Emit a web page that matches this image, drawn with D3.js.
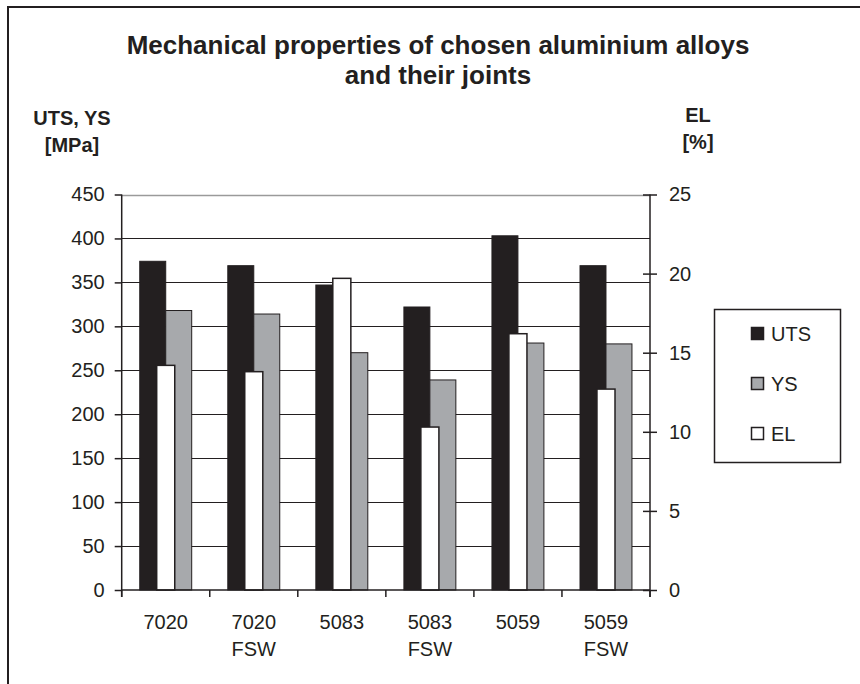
<!DOCTYPE html>
<html>
<head>
<meta charset="utf-8">
<script src="https://cdn.jsdelivr.net/npm/d3@7"></script>
<style>
  html, body { margin: 0; padding: 0; background: #fff; }
  svg { display: block; font-family: "Liberation Sans", Arial, sans-serif; }
</style>
</head>
<body>
<svg id="chart" width="860" height="684"></svg>
<script>
// ---- data ----
const categories = ["7020", "7020 FSW", "5083", "5083 FSW", "5059", "5059 FSW"];
const uts = [374, 369, 347, 322, 403, 369];
const ys  = [318, 314, 270, 239, 281, 280];
const el  = [14.2, 13.8, 19.7, 10.3, 16.2, 12.7];
const leftTicks = [0, 50, 100, 150, 200, 250, 300, 350, 400, 450];
const rightTicks = [0, 5, 10, 15, 20, 25];
const seriesNames = ["UTS", "YS", "EL"];
const titleLines = ["Mechanical properties of chosen aluminium alloys", "and their joints"];

// ---- layout ----
const ink = "#231f20";
const colors = { UTS: "#231f20", YS: "#a7a9ac", EL: "#ffffff" };
const plot = { left: 121.7, right: 650, top: 194.5, bottom: 590 };

const svg = d3.select("#chart");

// outer chart border (top and left visible)
svg.append("path")
  .attr("d", `M8,684 L8,7 L860,7`)
  .attr("fill", "none").attr("stroke", ink).attr("stroke-width", 2);

// scales
const yL = d3.scaleLinear().domain([0, 450]).range([plot.bottom, plot.top]);
const yR = d3.scaleLinear().domain([0, 25]).range([plot.bottom, plot.top]);
const x0 = d3.scaleBand().domain(categories).range([plot.left, plot.right])
  .paddingInner(0.41).paddingOuter(0.205);
const x1 = d3.scaleBand().domain(["UTS", "YS"]).range([0, x0.bandwidth()]);
const xEL = d3.scaleBand().domain(categories).range([plot.left, plot.right])
  .paddingInner(0.795).paddingOuter(0.3975);

// gridlines
svg.append("g").selectAll("line")
  .data(leftTicks.filter(d => d > 0))
  .join("line")
  .attr("x1", plot.left).attr("x2", plot.right)
  .attr("y1", d => Math.round(yL(d)) + 0.5).attr("y2", d => Math.round(yL(d)) + 0.5)
  .attr("stroke", d => d === 450 ? "#9a9a9a" : ink)
  .attr("stroke-width", d => d === 450 ? 1.5 : 1);

// primary bars
const groups = svg.append("g").selectAll("g")
  .data(categories.map((c, i) => ({ c, UTS: uts[i], YS: ys[i] })))
  .join("g")
  .attr("transform", d => `translate(${x0(d.c)},0)`);
groups.selectAll("rect")
  .data(d => ["UTS", "YS"].map(k => ({ k, v: d[k] })))
  .join("rect")
  .attr("x", d => x1(d.k))
  .attr("width", x1.bandwidth())
  .attr("y", d => yL(d.v))
  .attr("height", d => yL(0) - yL(d.v))
  .attr("fill", d => colors[d.k])
  .attr("stroke", ink).attr("stroke-width", 1);

// secondary bars (EL)
svg.append("g").selectAll("rect")
  .data(categories.map((c, i) => ({ c, v: el[i] })))
  .join("rect")
  .attr("x", d => xEL(d.c))
  .attr("width", xEL.bandwidth())
  .attr("y", d => yR(d.v))
  .attr("height", d => yR(0) - yR(d.v))
  .attr("fill", colors.EL)
  .attr("stroke", ink).attr("stroke-width", 1.5);

// left axis
const gL = svg.append("g").attr("transform", `translate(${plot.left},0)`)
  .call(d3.axisLeft(yL).tickValues(leftTicks).tickSize(7).tickPadding(10));
// right axis
const gR = svg.append("g").attr("transform", `translate(${plot.right},0)`)
  .call(d3.axisRight(yR).tickValues(rightTicks).tickSize(7).tickPadding(12));
gR.selectAll(".tick line").attr("x1", -7);

[gL, gR].forEach(g => {
  g.select(".domain").attr("stroke", ink).attr("stroke-width", 1.5)
    .attr("d", `M0,${plot.top}V${plot.bottom + 7}`);
  g.selectAll(".tick line").attr("stroke", ink).attr("stroke-width", 1.5);
  g.selectAll(".tick text").attr("fill", ink)
    .style("font-size", "20px").style("font-family", "Liberation Sans, Arial, sans-serif");
});

// bottom axis: line and boundary ticks
const step = x0.step();
const bounds = categories.map(c => x0(c) - (step - x0.bandwidth()) / 2).concat([plot.right]);
svg.append("line")
  .attr("x1", plot.left).attr("x2", plot.right)
  .attr("y1", plot.bottom).attr("y2", plot.bottom)
  .attr("stroke", ink).attr("stroke-width", 1.5);
svg.append("g").selectAll("line").data(bounds).join("line")
  .attr("x1", d => d).attr("x2", d => d)
  .attr("y1", plot.bottom).attr("y2", plot.bottom + 7)
  .attr("stroke", ink).attr("stroke-width", 1.5);

// category labels
const xl = svg.append("g").selectAll("text").data(categories).join("text")
  .attr("x", d => x0(d) + x0.bandwidth() / 2)
  .attr("y", 629)
  .attr("text-anchor", "middle")
  .attr("fill", ink)
  .style("font-size", "20px");
xl.selectAll("tspan").data(d => d.split(" ").map((t, i) => ({ t, i })))
  .join("tspan")
  .attr("x", function () { return d3.select(this.parentNode).attr("x"); })
  .attr("dy", d => d.i === 0 ? 0 : 27)
  .text(d => d.t);

// title
svg.append("g").selectAll("text").data(titleLines).join("text")
  .attr("x", 438).attr("y", (d, i) => 54 + i * 30)
  .attr("text-anchor", "middle").attr("fill", ink)
  .style("font-size", "26px").style("font-weight", "bold")
  .text(d => d);

// axis titles
const axisTitle = (x, lines, y0) => svg.append("g").selectAll("text").data(lines).join("text")
  .attr("x", x).attr("y", (d, i) => y0 + i * 27)
  .attr("text-anchor", "middle").attr("fill", ink)
  .style("font-size", "20px").style("font-weight", "bold")
  .text(d => d);
axisTitle(72, ["UTS, YS", "[MPa]"], 125);
axisTitle(698, ["EL", "[%]"], 122);

// legend
const legend = svg.append("g");
legend.append("rect")
  .attr("x", 714.5).attr("y", 309.5).attr("width", 126).attr("height", 153)
  .attr("fill", "#fff").attr("stroke", ink).attr("stroke-width", 1.5);
const li = legend.selectAll("g.item").data(seriesNames).join("g")
  .attr("transform", (d, i) => `translate(751,${334 + i * 50})`);
li.append("rect")
  .attr("x", 0.5).attr("y", -6.5).attr("width", 12).attr("height", 12)
  .attr("fill", d => colors[d]).attr("stroke", ink).attr("stroke-width", 1.5);
li.append("text")
  .attr("x", 20).attr("y", 7)
  .attr("fill", ink).style("font-size", "20px")
  .text(d => d);
</script>
</body>
</html>
